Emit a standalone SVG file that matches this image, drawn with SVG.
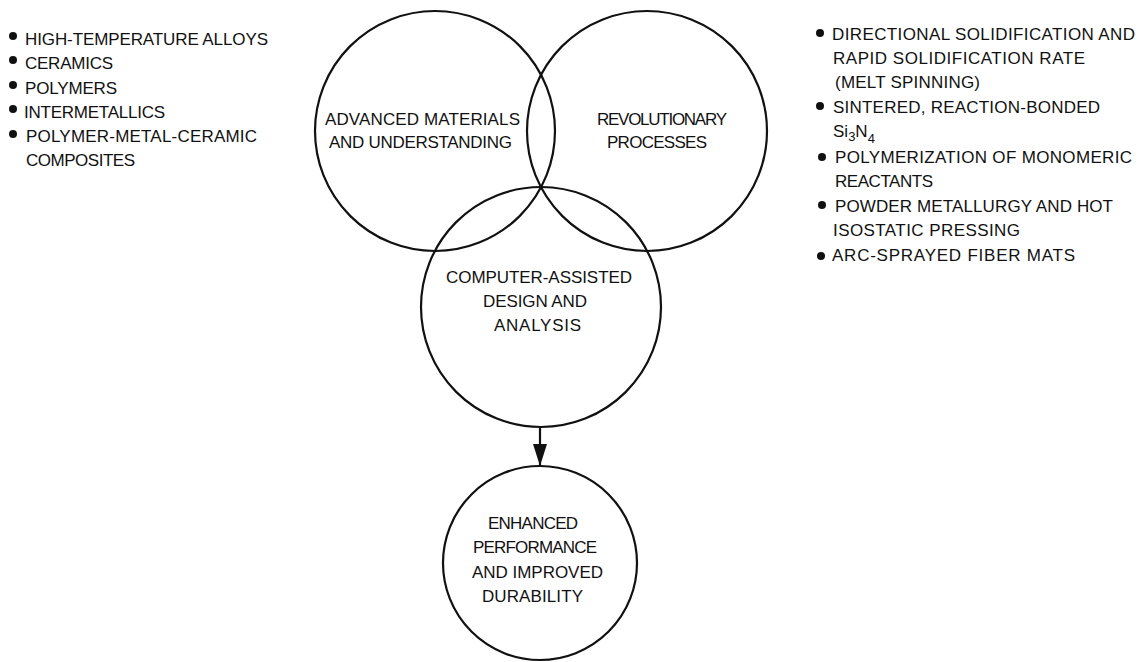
<svg xmlns="http://www.w3.org/2000/svg" width="1146" height="662" viewBox="0 0 1146 662">
<defs>
<style>
.c{fill:none;stroke:#111;stroke-width:2.2}
.t{font-family:"Liberation Sans",Arial,sans-serif;font-size:17px;fill:#111}
.b{fill:#111}
</style>
<marker id="ah" viewBox="0 0 22 14" refX="22" refY="7" markerWidth="22" markerHeight="14" markerUnits="userSpaceOnUse" orient="auto">
<path d="M0,0 L22,7 L0,14 Z" fill="#111"/>
</marker>
</defs>
<rect width="1146" height="662" fill="#fff"/>

<g id="materials-list">
<circle class="b" cx="13" cy="36" r="4"/>
<text class="t" x="25" y="45" textLength="243">HIGH-TEMPERATURE ALLOYS</text>
<circle class="b" cx="13" cy="60" r="4"/>
<text class="t" x="25" y="69" textLength="88">CERAMICS</text>
<circle class="b" cx="13" cy="85" r="4"/>
<text class="t" x="25" y="94" textLength="92">POLYMERS</text>
<circle class="b" cx="13" cy="109" r="4"/>
<text class="t" x="24" y="118" textLength="141">INTERMETALLICS</text>
<circle class="b" cx="13" cy="134" r="4"/>
<text class="t" x="26" y="142" textLength="231">POLYMER-METAL-CERAMIC</text>
<text class="t" x="26" y="166" textLength="109">COMPOSITES</text>
</g>

<g id="process-list">
<circle class="b" cx="820" cy="33" r="4"/>
<text class="t" x="832" y="40" textLength="303">DIRECTIONAL SOLIDIFICATION AND</text>
<text class="t" x="833" y="64" textLength="252">RAPID SOLIDIFICATION RATE</text>
<text class="t" x="835" y="88" textLength="145">(MELT SPINNING)</text>
<circle class="b" cx="820" cy="106" r="4"/>
<text class="t" x="833" y="113" textLength="267">SINTERED, REACTION-BONDED</text>
<text class="t" x="833" y="137">Si<tspan dy="4" font-size="13">3</tspan><tspan dy="-4">N</tspan><tspan dy="6" font-size="13">4</tspan></text>
<circle class="b" cx="822" cy="157" r="4"/>
<text class="t" x="835" y="163" textLength="297">POLYMERIZATION OF MONOMERIC</text>
<text class="t" x="835" y="187" textLength="98">REACTANTS</text>
<circle class="b" cx="822" cy="205" r="4"/>
<text class="t" x="835" y="212" textLength="278">POWDER METALLURGY AND HOT</text>
<text class="t" x="833" y="236" textLength="187">ISOSTATIC PRESSING</text>
<circle class="b" cx="821" cy="256" r="4"/>
<text class="t" x="832" y="261" textLength="243">ARC-SPRAYED FIBER MATS</text>
</g>

<g id="advanced-materials">
<circle class="c" cx="435" cy="131" r="120"/>
<text class="t" x="325" y="125" textLength="195">ADVANCED MATERIALS</text>
<text class="t" x="329" y="148" textLength="183">AND UNDERSTANDING</text>
</g>

<g id="revolutionary-processes">
<circle class="c" cx="647" cy="131" r="120"/>
<text class="t" x="597" y="125" textLength="130">REVOLUTIONARY</text>
<text class="t" x="607" y="148" textLength="100">PROCESSES</text>
</g>

<g id="computer-assisted">
<circle class="c" cx="541" cy="307" r="120"/>
<text class="t" x="446" y="283" textLength="186">COMPUTER-ASSISTED</text>
<text class="t" x="483" y="307" textLength="104">DESIGN AND</text>
<text class="t" x="494" y="331" textLength="87">ANALYSIS</text>
</g>

<g id="enhanced-performance">
<circle class="c" cx="540" cy="563" r="97"/>
<text class="t" x="488" y="529" textLength="90">ENHANCED</text>
<text class="t" x="473" y="553" textLength="124">PERFORMANCE</text>
<text class="t" x="472" y="578" textLength="131">AND IMPROVED</text>
<text class="t" x="482" y="602" textLength="101">DURABILITY</text>
</g>

<g id="connectors">
<line x1="540" y1="428" x2="540" y2="466" stroke="#111" stroke-width="2.2" marker-end="url(#ah)"/>
</g>
</svg>
